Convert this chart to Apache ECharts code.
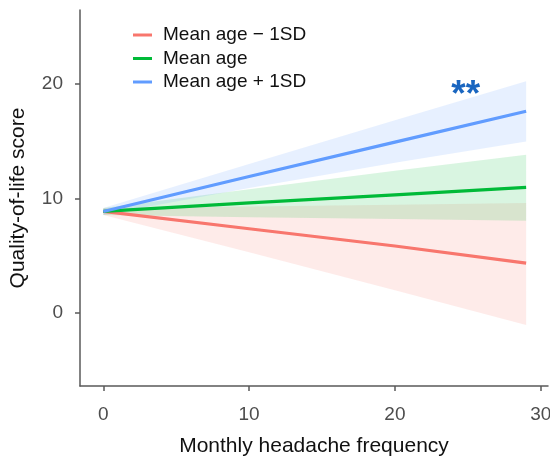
<!DOCTYPE html>
<html>
<head>
<meta charset="utf-8">
<script src="https://cdn.jsdelivr.net/npm/echarts@6/dist/echarts.min.js"></script>
<style>html,body{margin:0;padding:0;background:#fff}#c{width:550px;height:457px}</style>
</head>
<body>
<div id="c"></div>
<script>
// Data
const xVals = [0, 10, 20, 29];
const seriesNames = ['Mean age \u2212 1SD', 'Mean age', 'Mean age + 1SD'];
const lowFit   = [8.86, 7.35, 5.85, 4.36];
const lowUpper = [9.15, 9.3, 9.45, 9.59];
const lowLower = [8.55, 5.3, 2.0, -1.02];
const midFit   = [8.86, 9.6, 10.3, 10.95];
const midUpper = [9.15, 10.8, 12.4, 13.8];
const midLower = [8.55, 8.35, 8.2, 8.05];
const highFit   = [8.86, 11.9, 14.9, 17.58];
const highUpper = [9.15, 13.0, 16.8, 20.2];
const highLower = [8.55, 10.9, 13.1, 14.96];
const xTicks = [0, 10, 20, 30];
const yTicks = [0, 10, 20];
const annotation = {x: 24.85, y: 19.6, text: '**'};

const colors = ['#F8766D', '#00BA38', '#619CFF'];
const bandColors = ['rgba(248,118,109,0.15)', 'rgba(0,186,56,0.15)', 'rgba(97,156,255,0.15)'];

function pairs(xs, ys) { return xs.map((x, i) => [x, ys[i]]); }

function bandSeries(upper, lower, idx) {
  return {
    type: 'custom',
    silent: true,
    z: 1,
    data: [0],
    renderItem: function (params, api) {
      const pts = [];
      for (let i = 0; i < xVals.length; i++) pts.push(api.coord([xVals[i], upper[i]]));
      for (let i = xVals.length - 1; i >= 0; i--) pts.push(api.coord([xVals[i], lower[i]]));
      return { type: 'polygon', shape: { points: pts }, style: { fill: bandColors[idx] } };
    }
  };
}

function lineSeries(name, fit, idx, extra) {
  return Object.assign({
    name: name,
    type: 'line',
    data: pairs(xVals, fit),
    showSymbol: false,
    symbol: 'none',
    z: 3,
    lineStyle: { color: colors[idx], width: 3.2 },
    itemStyle: { color: colors[idx] }
  }, extra || {});
}

const axisColor = '#5a5a5a';
const chart = echarts.init(document.getElementById('c'), null, { renderer: 'canvas' });
chart.setOption({
  animation: false,
  textStyle: { fontFamily: 'Liberation Sans, Arial, sans-serif' },
  grid: { left: 80, top: 10, right: 2, bottom: 71, containLabel: false, outerBoundsMode: 'none' },
  legend: {
    orient: 'vertical',
    left: 133,
    top: 25,
    padding: 0,
    icon: 'rect',
    itemWidth: 19,
    itemHeight: 3,
    itemGap: 3.5,
    data: seriesNames,
    textStyle: { fontSize: 19, color: '#111', lineHeight: 20, padding: [0, 0, 0, 6], fontFamily: 'Liberation Sans, Arial, sans-serif' }
  },
  xAxis: {
    type: 'value',
    min: -1.6,
    max: 30.5,
    name: 'Monthly headache frequency',
    nameLocation: 'middle',
    nameGap: 50,
    nameTextStyle: { fontSize: 21, color: '#111' },
    splitLine: { show: false },
    axisLine: { show: true, onZero: false, lineStyle: { color: axisColor, width: 1.5 } },
    axisTick: { show: true, length: 5, customValues: xTicks, lineStyle: { color: axisColor, width: 1.5 } },
    axisLabel: { customValues: xTicks, fontSize: 19, color: '#4d4d4d', margin: 19 }
  },
  yAxis: {
    type: 'value',
    min: -6.34,
    max: 26.4,
    name: 'Quality-of-life score',
    nameLocation: 'middle',
    nameGap: 51,
    nameTextStyle: { fontSize: 21, color: '#111' },
    splitLine: { show: false },
    axisLine: { show: true, onZero: false, lineStyle: { color: axisColor, width: 1.5 } },
    axisTick: { show: true, length: 5, customValues: yTicks, lineStyle: { color: axisColor, width: 1.5 } },
    axisLabel: { customValues: yTicks, fontSize: 19, color: '#4d4d4d', margin: 17 }
  },
  series: [
    bandSeries(lowUpper, lowLower, 0),
    bandSeries(midUpper, midLower, 1),
    bandSeries(highUpper, highLower, 2),
    lineSeries(seriesNames[0], lowFit, 0),
    lineSeries(seriesNames[1], midFit, 1),
    lineSeries(seriesNames[2], highFit, 2, {
      markPoint: {
        silent: true,
        symbol: 'circle',
        symbolSize: 0,
        data: [{ coord: [annotation.x, annotation.y] }],
        label: {
          show: true,
          position: 'inside',
          formatter: annotation.text,
          fontSize: 37,
          fontWeight: 'bold',
          color: '#1a66c0',
          offset: [0, 8]
        }
      }
    })
  ]
});
</script>
</body>
</html>
